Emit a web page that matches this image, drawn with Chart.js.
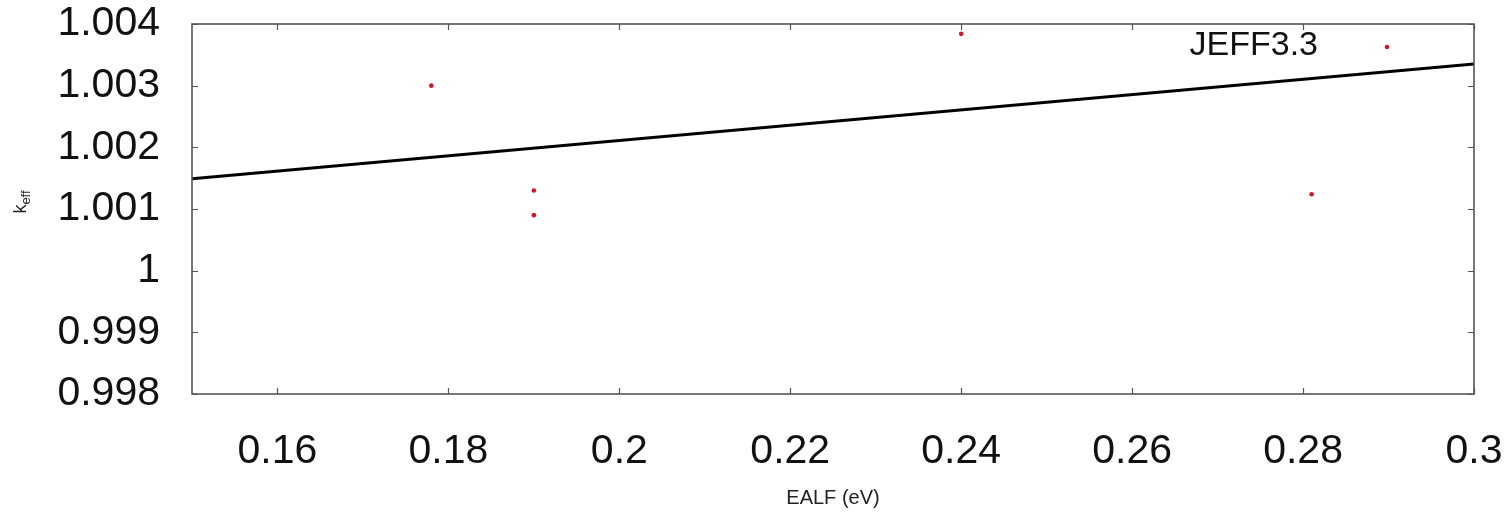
<!DOCTYPE html>
<html>
<head>
<meta charset="utf-8">
<script src="https://cdn.jsdelivr.net/npm/chart.js@4"></script>
<style>
  html, body { margin: 0; padding: 0; background: #fff; }
  #wrap { width: 1509px; height: 512px; }
</style>
</head>
<body>
<div id="wrap"><canvas id="keffChart" width="1509" height="512"></canvas></div>
<script>
// data
var ealf = [0.178, 0.19, 0.19, 0.24, 0.281];
var keff = [1.003, 1.0013, 1.0009, 1.00384, 1.00124];
// linear fit, end points
var fitX = [0.15, 0.3];
var fitY = [1.00149, 1.00335];
var xTicks = [0.16, 0.18, 0.2, 0.22, 0.24, 0.26, 0.28, 0.3];
var yTicks = [0.998, 0.999, 1, 1.001, 1.002, 1.003, 1.004];
var seriesName = 'JEFF3.3';

var FONT = "'Liberation Sans', Arial, sans-serif";
var POINT_COLOR = '#d0142c';

// gnuplot-like frame, inner ticks, key and axis titles
var gnuplotBits = {
    id: 'gnuplotBits',
    afterDatasetsDraw: function (chart) {
        var ctx = chart.ctx;
        var a = chart.chartArea;
        var xs = chart.scales.x, ys = chart.scales.y;
        ctx.save();
        ctx.strokeStyle = '#555';
        ctx.lineWidth = 1.2;
        var t = 6;
        ctx.beginPath();
        xTicks.forEach(function (v) {
            var px = Math.round(xs.getPixelForValue(v)) + 0.5;
            ctx.moveTo(px, a.bottom); ctx.lineTo(px, a.bottom - t);
            ctx.moveTo(px, a.top); ctx.lineTo(px, a.top + t);
        });
        yTicks.forEach(function (v) {
            var py = Math.round(ys.getPixelForValue(v)) + 0.5;
            ctx.moveTo(a.left, py); ctx.lineTo(a.left + t, py);
            ctx.moveTo(a.right, py); ctx.lineTo(a.right - t, py);
        });
        ctx.stroke();
        ctx.lineWidth = 1.6;
        ctx.strokeRect(a.left, a.top, a.right - a.left, a.bottom - a.top);

        // key
        ctx.fillStyle = '#111';
        ctx.font = '34px ' + FONT;
        ctx.textAlign = 'right';
        ctx.textBaseline = 'middle';
        ctx.fillText(seriesName, 1318, 46);
        ctx.fillStyle = POINT_COLOR;
        ctx.beginPath();
        ctx.arc(1387, 47, 2.3, 0, Math.PI * 2);
        ctx.fill();

        // x title
        ctx.fillStyle = '#222';
        ctx.font = '20px ' + FONT;
        ctx.textAlign = 'center';
        ctx.fillText('EALF (eV)', (a.left + a.right) / 2, 498);

        // y title with subscript
        ctx.translate(20, 202);
        ctx.rotate(-Math.PI / 2);
        ctx.textAlign = 'left';
        ctx.textBaseline = 'alphabetic';
        ctx.font = '18px ' + FONT;
        var kw = ctx.measureText('k').width;
        ctx.font = '13px ' + FONT;
        var ew = ctx.measureText('eff').width;
        var x0 = -(kw + ew) / 2;
        ctx.font = '18px ' + FONT;
        ctx.fillText('k', x0, 6);
        ctx.font = '13px ' + FONT;
        ctx.fillText('eff', x0 + kw, 10);
        ctx.restore();
    }
};

var ctx = document.getElementById('keffChart').getContext('2d');
var chart = new Chart(ctx, {
    type: 'scatter',
    data: {
        datasets: [{
            label: seriesName,
            data: ealf.map(function (x, i) { return { x: x, y: keff[i] }; }),
            backgroundColor: POINT_COLOR,
            borderColor: POINT_COLOR,
            pointRadius: 2.3,
            borderWidth: 0,
            order: 1
        }, {
            label: 'fit',
            type: 'line',
            data: fitX.map(function (x, i) { return { x: x, y: fitY[i] }; }),
            borderColor: '#000',
            borderWidth: 3,
            pointRadius: 0,
            fill: false,
            order: 2
        }]
    },
    options: {
        responsive: false,
        animation: false,
        layout: { padding: { top: 24, right: 35, left: 0, bottom: 0 } },
        plugins: {
            legend: { display: false },
            tooltip: { enabled: false }
        },
        scales: {
            x: {
                type: 'linear',
                min: 0.15,
                max: 0.3,
                grid: { display: false },
                border: { display: false },
                afterBuildTicks: function (s) { s.ticks = xTicks.map(function (v) { return { value: v }; }); },
                afterFit: function (s) { s.height = 118; s.paddingLeft = 0; s.paddingRight = 0; },
                ticks: {
                    padding: 25,
                    maxRotation: 0,
                    autoSkip: false,
                    color: '#111',
                    font: { family: FONT, size: 41 },
                    callback: function (v) { return String(parseFloat(Number(v).toFixed(3))); }
                }
            },
            y: {
                type: 'linear',
                min: 0.998,
                max: 1.004,
                grid: { display: false },
                border: { display: false },
                afterBuildTicks: function (s) { s.ticks = yTicks.map(function (v) { return { value: v }; }); },
                afterFit: function (s) { s.width = 192; s.paddingTop = 0; s.paddingBottom = 0; },
                ticks: {
                    padding: 24,
                    autoSkip: false,
                    color: '#111',
                    font: { family: FONT, size: 41 },
                    callback: function (v) { return String(parseFloat(Number(v).toFixed(4))); }
                }
            }
        }
    },
    plugins: [gnuplotBits]
});
</script>
</body>
</html>
